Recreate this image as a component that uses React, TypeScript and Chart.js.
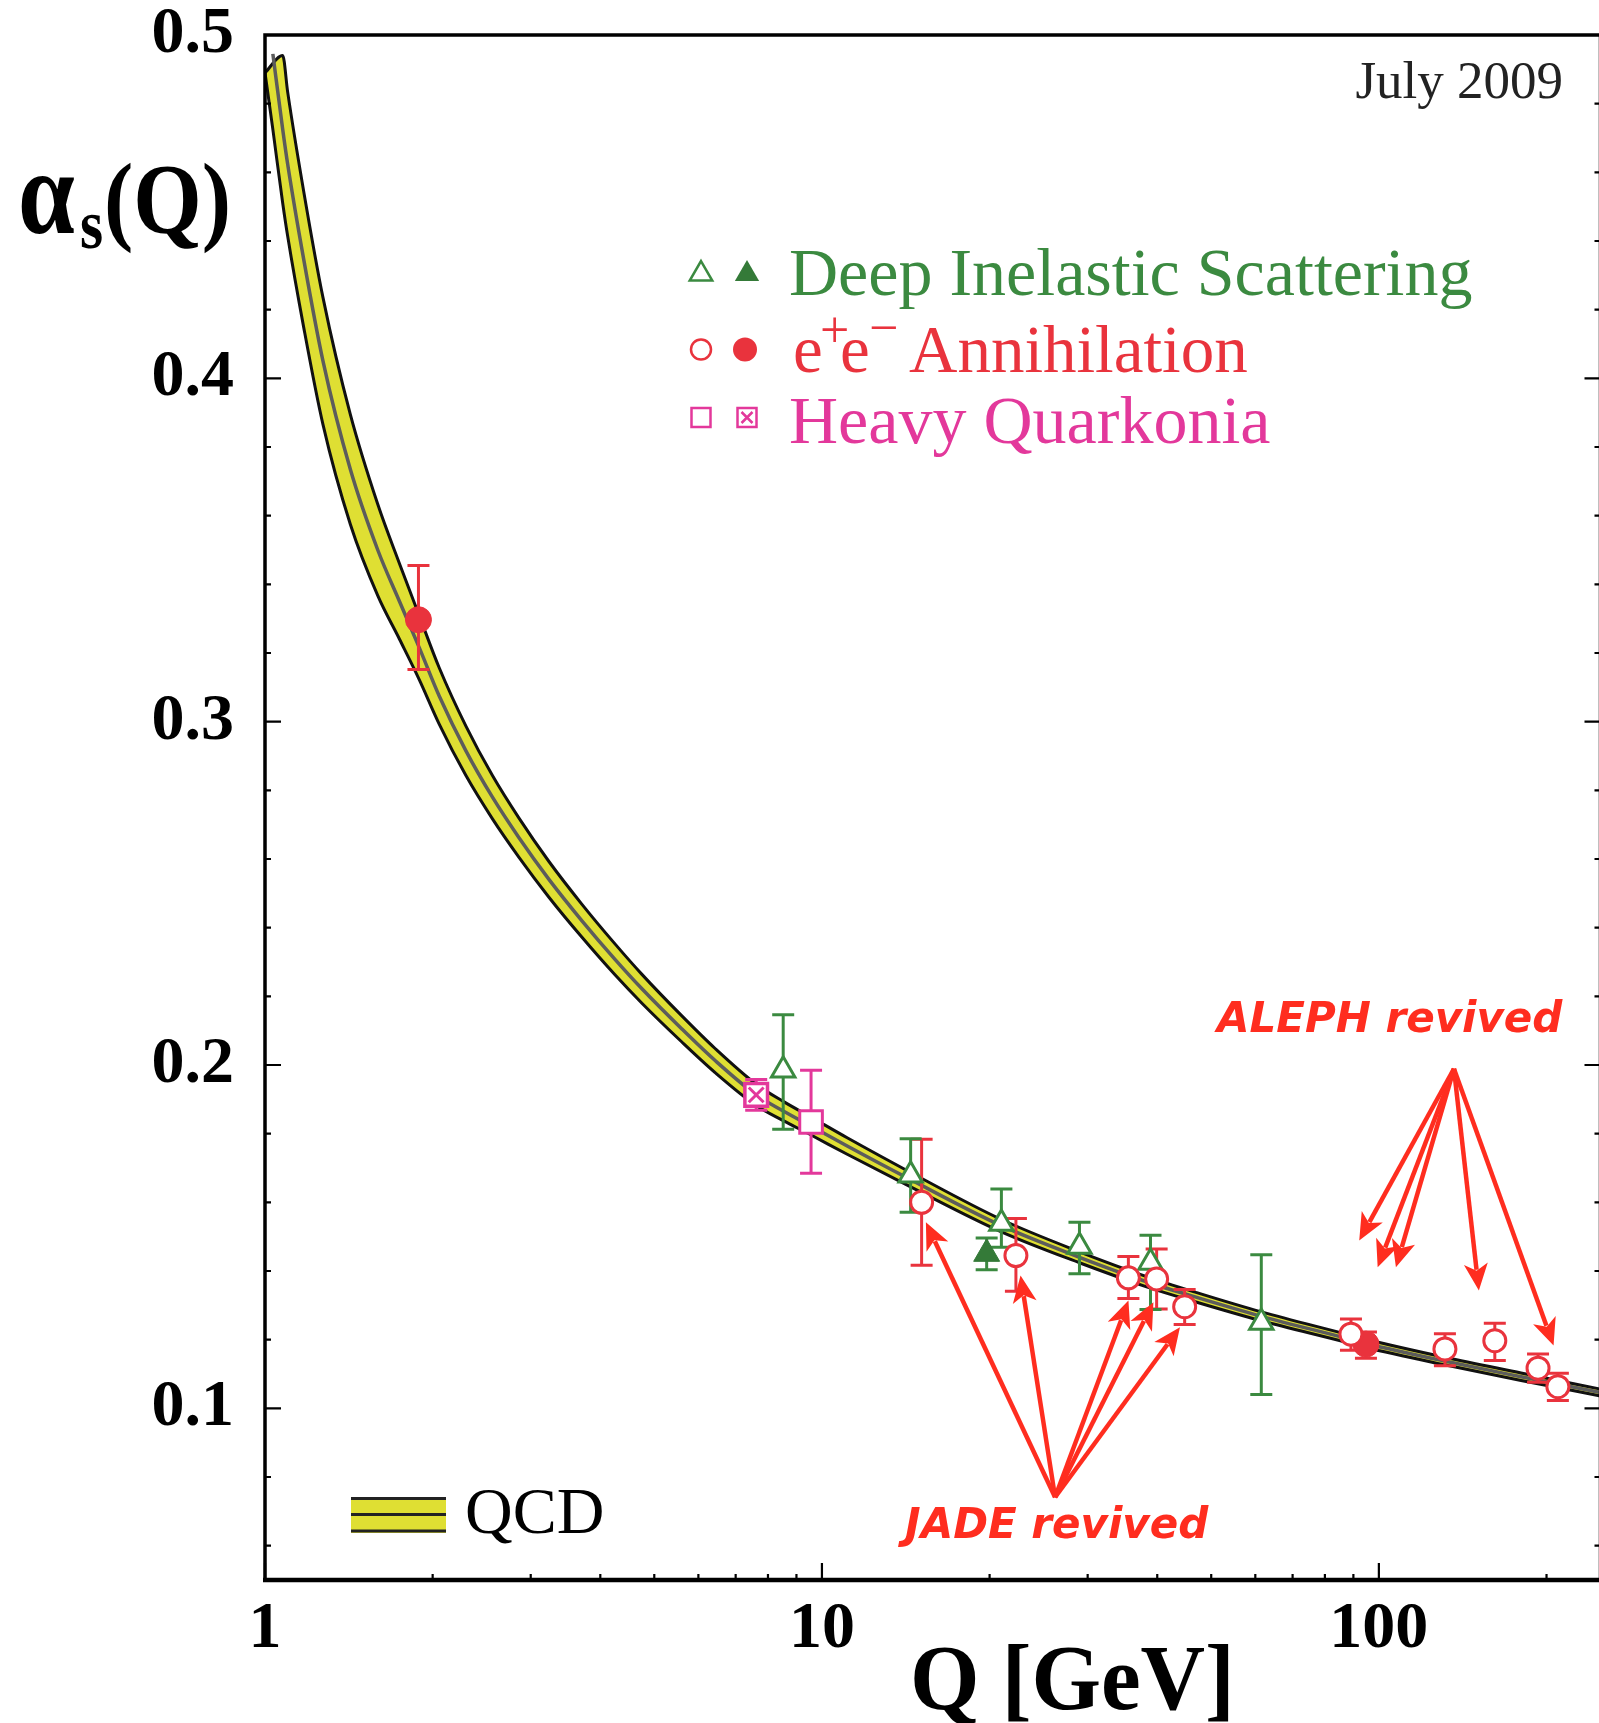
import React, { useEffect, useRef } from 'react';
import { Chart, registerables } from 'chart.js';

Chart.register(...registerables);

const SERIF = '"Liberation Serif", "Times New Roman", serif';
const SANS = '"DejaVu Sans", Verdana, sans-serif';

const GREEN = '#3b8a40';
const GREEN_DARK = '#347a38';
const RED = '#e9333d';
const PINK = '#e3389b';
const ARROW_RED = '#ff2d1f';
const YELLOW = '#dfdf33';

// ---- axis ticks ----
const xTickValues = [1, 10, 100];
const xTickLabels = ['1', '10', '100'];
const xMinorTicks = [2, 3, 4, 5, 6, 7, 8, 9, 20, 30, 40, 50, 60, 70, 80, 90, 200];
const yTickValues = [0.1, 0.2, 0.3, 0.4, 0.5];
const yTickLabels = ['0.1', '0.2', '0.3', '0.4', '0.5'];
const yMinorTicks = [0.06, 0.08, 0.12, 0.14, 0.16, 0.18, 0.22, 0.24, 0.26, 0.28, 0.32, 0.34, 0.36, 0.38, 0.42, 0.44, 0.46, 0.48];

// ---- QCD band ----
const qcdQ = [1.0, 1.033, 1.076, 1.098, 1.174, 1.271, 1.423, 1.594, 1.744, 1.893, 2.055, 2.295, 2.561, 2.858, 3.237, 3.708, 4.254, 4.751, 5.604, 6.43, 7.62, 8.52, 9.56, 11.1, 14.43, 21.0, 29.0, 38.4, 47.1, 61.5, 87, 94.8, 131.8, 180, 250];
const qcdCentral = [null, 0.4945, 0.4725, 0.4625, 0.4345, 0.405, 0.3735, 0.35, 0.335, 0.3215, 0.3075, 0.2915, 0.278, 0.2662, 0.254, 0.242, 0.2307, 0.2222, 0.2105, 0.2013, 0.1913, 0.1866, 0.1822, 0.1764, 0.1666, 0.1532, 0.144, 0.1368, 0.1323, 0.1268, 0.1205, 0.1189, 0.1137, 0.1092, 0.1046];
const qcdUpper = [0.489, null, 0.494, 0.4835, 0.4543, 0.4235, 0.3895, 0.3633, 0.346, 0.3308, 0.3157, 0.2987, 0.2843, 0.2719, 0.2592, 0.2468, 0.2352, 0.2264, 0.2143, 0.2048, 0.1944, 0.1894, 0.1848, 0.1788, 0.1687, 0.155, 0.1456, 0.1383, 0.1337, 0.1281, 0.1217, 0.1201, 0.1148, 0.1103, 0.1056];
const qcdLower = [0.489, 0.4725, 0.451, 0.4415, 0.4147, 0.3865, 0.3575, 0.3367, 0.324, 0.3122, 0.2993, 0.2843, 0.2717, 0.2605, 0.2488, 0.2372, 0.2262, 0.218, 0.2067, 0.1978, 0.1882, 0.1838, 0.1796, 0.174, 0.1645, 0.1514, 0.1424, 0.1353, 0.1309, 0.1255, 0.1193, 0.1177, 0.1126, 0.1081, 0.1036];

// ---- Deep Inelastic Scattering ----
const disOpenQ = [8.52, 14.43, 21.0, 29.0, 38.9, 61.5];
const disOpenAlpha = [0.1985, 0.1679, 0.1538, 0.1471, 0.1425, 0.125];
const disOpenErrUp = [0.0161, 0.0106, 0.0101, 0.0071, 0.0079, 0.0197];
const disOpenErrDown = [0.0172, 0.0108, 0.0069, 0.0079, 0.0137, 0.021];

const disFilledQ = [19.76];
const disFilledAlpha = [0.145];
const disFilledErrUp = [0.0046];
const disFilledErrDown = [0.0046];

// ---- e+e- annihilation ----
const eeOpenQ = [15.1, 22.3, 35.5, 39.9, 44.8, 89.1, 131.4, 161.5, 193.1, 209.6];
const eeOpenAlpha = [0.16, 0.1445, 0.138, 0.1377, 0.1296, 0.1216, 0.1173, 0.1197, 0.1117, 0.1063];
const eeOpenErrUp = [0.0184, 0.0108, 0.0062, 0.0087, 0.005, 0.0044, 0.0044, 0.0051, 0.0041, 0.0039];
const eeOpenErrDown = [0.0183, 0.0104, 0.006, 0.0088, 0.0052, 0.0047, 0.0049, 0.0058, 0.0041, 0.004];

const eeFilledQ = [1.886, 94.8];
const eeFilledAlpha = [0.3297, 0.1187];
const eeFilledErrUp = [0.0158, 0.0035];
const eeFilledErrDown = [0.0145, 0.0041];

// ---- Heavy quarkonia ----
const hqOpenQ = [9.56];
const hqOpenAlpha = [0.1834];
const hqOpenErrUp = [0.0151];
const hqOpenErrDown = [0.0149];

const hqCrossQ = [7.62];
const hqCrossAlpha = [0.1913];
const hqCrossErrUp = [0.0045];
const hqCrossErrDown = [0.0045];

// ---- annotation arrows (data coordinates) ----
const jadeOriginQ = 26.22;
const jadeOriginAlpha = 0.0741;
const jadeTipsQ = [15.37, 22.73, 35.51, 39.37, 43.94];
const jadeTipsAlpha = [0.1542, 0.1387, 0.1314, 0.1309, 0.1236];
const alephOriginQ = 136.4;
const alephOriginAlpha = 0.1989;
const alephTipsQ = [92.2, 99.5, 107.3, 151.2, 205.9];
const alephTipsAlpha = [0.1489, 0.1411, 0.1411, 0.1343, 0.1183];

const pts = (q: number[], a: (number | null)[]) => q.map((x, i) => ({ x, y: a[i] }));
const errData = (q: number[], a: number[], up: number[], dn: number[]) =>
  q.flatMap((x, i) => [{ x, y: a[i] - dn[i] }, { x, y: a[i] + up[i] }, { x, y: null as any }]);

const errSet = (data: any[], color: string) => ({
  type: 'line' as const,
  data,
  borderColor: color,
  borderWidth: 3,
  pointStyle: 'line' as const,
  pointRadius: 11,
  pointBorderWidth: 3,
  pointBorderColor: color,
  spanGaps: false,
  fill: false,
  order: 5,
});

const markerSet = (data: any[], style: any, radius: number, fillColor: string, strokeColor: string, bw: number, order = 2) => ({
  type: 'line' as const,
  data,
  showLine: false,
  pointStyle: style,
  pointRadius: radius,
  pointBackgroundColor: fillColor,
  pointBorderColor: strokeColor,
  pointBorderWidth: bw,
  order,
});

function drawText(ctx: CanvasRenderingContext2D, text: string, x: number, y: number, font: string, color: string, sx = 1, align: CanvasTextAlign = 'left') {
  ctx.save();
  ctx.font = font;
  ctx.fillStyle = color;
  ctx.textAlign = align;
  ctx.textBaseline = 'alphabetic';
  ctx.translate(x, y);
  ctx.scale(sx, 1);
  ctx.fillText(text, 0, 0);
  ctx.restore();
}

function triangle(ctx: CanvasRenderingContext2D, x: number, y: number, r: number) {
  const s = Math.sin(Math.PI * 2 / 3) * r;
  ctx.beginPath();
  ctx.moveTo(x, y - r);
  ctx.lineTo(x + s, y + r / 2);
  ctx.lineTo(x - s, y + r / 2);
  ctx.closePath();
}

function arrow(ctx: CanvasRenderingContext2D, x0: number, y0: number, x1: number, y1: number) {
  const dx = x1 - x0, dy = y1 - y0;
  const len = Math.hypot(dx, dy);
  const ux = dx / len, uy = dy / len;
  const headL = 27, headW = 12;
  const bx = x1 - ux * headL, by = y1 - uy * headL;
  ctx.beginPath();
  ctx.moveTo(x0, y0);
  ctx.lineTo(bx + ux * 6, by + uy * 6);
  ctx.stroke();
  ctx.beginPath();
  ctx.moveTo(x1, y1);
  ctx.lineTo(bx - uy * headW, by + ux * headW);
  ctx.lineTo(bx + ux * 7, by + uy * 7);
  ctx.lineTo(bx + uy * headW, by - ux * headW);
  ctx.closePath();
  ctx.fill();
}

const decorPlugin = {
  id: 'decor',
  afterDraw(chart: any) {
    const ctx: CanvasRenderingContext2D = chart.ctx;
    const xs = chart.scales.x, ys = chart.scales.y;
    const { left, right, top, bottom } = chart.chartArea;
    ctx.save();
    // frame
    ctx.strokeStyle = '#000';
    ctx.lineCap = 'butt';
    ctx.lineWidth = 3.5;
    ctx.beginPath();
    ctx.moveTo(left, bottom);
    ctx.lineTo(left, top);
    ctx.lineTo(right, top);
    ctx.lineTo(right, bottom);
    ctx.stroke();
    ctx.lineWidth = 4.5;
    ctx.beginPath();
    ctx.moveTo(left - 2, bottom);
    ctx.lineTo(right + 2, bottom);
    ctx.stroke();
    // ticks
    ctx.lineWidth = 2.2;
    ctx.beginPath();
    for (const v of xTickValues) {
      const p = xs.getPixelForValue(v);
      ctx.moveTo(p, bottom); ctx.lineTo(p, bottom - 17);
    }
    for (const v of xMinorTicks) {
      const p = xs.getPixelForValue(v);
      ctx.moveTo(p, bottom); ctx.lineTo(p, bottom - 6);
    }
    for (const v of yTickValues) {
      const p = ys.getPixelForValue(v);
      ctx.moveTo(left, p); ctx.lineTo(left + 16, p);
      ctx.moveTo(right, p); ctx.lineTo(right - 16, p);
    }
    for (const v of yMinorTicks) {
      const p = ys.getPixelForValue(v);
      ctx.moveTo(left, p); ctx.lineTo(left + 6, p);
      ctx.moveTo(right, p); ctx.lineTo(right - 6, p);
    }
    ctx.stroke();

    // axis titles
    drawText(ctx, 'Q [GeV]', 910, 1709, `bold 94px ${SERIF}`, '#000', 0.95);
    drawText(ctx, '\u03b1', 18, 233, `bold 120px ${SERIF}`, '#000', 0.85);
    drawText(ctx, 's', 80, 248, `bold 70px ${SERIF}`, '#000', 0.85);
    drawText(ctx, '(Q)', 104, 232, `bold 100px ${SERIF}`, '#000', 0.88);

    // date
    drawText(ctx, 'July 2009', 1563, 98, `53px ${SERIF}`, '#222', 1, 'right');

    // legend
    ctx.lineWidth = 2.5;
    ctx.strokeStyle = GREEN; ctx.fillStyle = '#fff';
    triangle(ctx, 701, 274, 13); ctx.fill(); ctx.stroke();
    ctx.fillStyle = GREEN_DARK;
    triangle(ctx, 747, 274, 14); ctx.fill();
    drawText(ctx, 'Deep Inelastic Scattering', 789, 294.5, `68px ${SERIF}`, GREEN);

    ctx.strokeStyle = RED; ctx.fillStyle = '#fff';
    ctx.beginPath(); ctx.arc(701, 349.5, 10, 0, Math.PI * 2); ctx.fill(); ctx.stroke();
    ctx.fillStyle = RED;
    ctx.beginPath(); ctx.arc(745, 349.5, 12, 0, Math.PI * 2); ctx.fill();
    drawText(ctx, 'e', 793, 371.5, `67px ${SERIF}`, RED);
    drawText(ctx, '+', 820, 347, `52px ${SERIF}`, RED);
    drawText(ctx, 'e', 840, 371.5, `67px ${SERIF}`, RED);
    drawText(ctx, '\u2212', 869, 345, `52px ${SERIF}`, RED);
    drawText(ctx, 'Annihilation', 909, 371.5, `67px ${SERIF}`, RED);

    ctx.strokeStyle = PINK; ctx.fillStyle = '#fff';
    ctx.beginPath(); ctx.rect(691.5, 408, 19, 19); ctx.fill(); ctx.stroke();
    ctx.beginPath(); ctx.rect(737.5, 408, 19, 19); ctx.fill(); ctx.stroke();
    ctx.beginPath();
    ctx.moveTo(741.5, 412); ctx.lineTo(752.5, 423);
    ctx.moveTo(752.5, 412); ctx.lineTo(741.5, 423);
    ctx.stroke();
    drawText(ctx, 'Heavy Quarkonia', 789, 443, `68px ${SERIF}`, PINK);

    // QCD legend swatch
    ctx.fillStyle = YELLOW;
    ctx.fillRect(351, 1497, 95, 36);
    ctx.strokeStyle = '#222';
    ctx.lineWidth = 3;
    ctx.beginPath();
    ctx.moveTo(351, 1498.5); ctx.lineTo(446, 1498.5);
    ctx.moveTo(351, 1514.5); ctx.lineTo(446, 1514.5);
    ctx.moveTo(351, 1531); ctx.lineTo(446, 1531);
    ctx.stroke();
    drawText(ctx, 'QCD', 465, 1533, `66px ${SERIF}`, '#000');

    // annotations
    ctx.strokeStyle = ARROW_RED;
    ctx.fillStyle = ARROW_RED;
    ctx.lineWidth = 4.5;
    const jx = xs.getPixelForValue(jadeOriginQ), jy = ys.getPixelForValue(jadeOriginAlpha);
    jadeTipsQ.forEach((q, i) => arrow(ctx, jx, jy, xs.getPixelForValue(q), ys.getPixelForValue(jadeTipsAlpha[i])));
    const ax = xs.getPixelForValue(alephOriginQ), ay = ys.getPixelForValue(alephOriginAlpha);
    alephTipsQ.forEach((q, i) => arrow(ctx, ax, ay, xs.getPixelForValue(q), ys.getPixelForValue(alephTipsAlpha[i])));
    drawText(ctx, 'JADE revived', 905, 1538, `italic bold 42px ${SANS}`, ARROW_RED);
    drawText(ctx, 'ALEPH revived', 1217, 1032, `italic bold 42px ${SANS}`, ARROW_RED);
    ctx.restore();
  },
};

export default function App() {
  const ref = useRef<HTMLCanvasElement>(null);
  useEffect(() => {
    if (!ref.current) return;
    const tickFont = { family: SERIF, size: 66, weight: 'bold' as const, lineHeight: 1.2 };
    const chart = new Chart(ref.current, {
      type: 'line',
      data: {
        datasets: [
          {
            data: pts(qcdQ, qcdLower),
            borderColor: '#111',
            borderWidth: 3,
            pointRadius: 0,
            fill: false,
            cubicInterpolationMode: 'monotone',
            order: 9,
          } as any,
          {
            data: pts(qcdQ, qcdUpper),
            borderColor: '#111',
            borderWidth: 3,
            pointRadius: 0,
            spanGaps: true,
            fill: 0,
            backgroundColor: YELLOW,
            cubicInterpolationMode: 'monotone',
            segment: { borderColor: (c: any) => (c.p0DataIndex === 0 ? 'rgba(0,0,0,0)' : '#111') },
            order: 10,
          } as any,
          {
            data: pts(qcdQ, qcdCentral),
            borderColor: '#5c5c5c',
            borderWidth: 3.5,
            pointRadius: 0,
            fill: false,
            cubicInterpolationMode: 'monotone',
            order: 8,
          } as any,
          errSet(errData(disOpenQ, disOpenAlpha, disOpenErrUp, disOpenErrDown), GREEN),
          errSet(errData(disFilledQ, disFilledAlpha, disFilledErrUp, disFilledErrDown), GREEN),
          errSet(errData(eeOpenQ, eeOpenAlpha, eeOpenErrUp, eeOpenErrDown), RED),
          errSet(errData(eeFilledQ, eeFilledAlpha, eeFilledErrUp, eeFilledErrDown), RED),
          errSet(errData(hqOpenQ, hqOpenAlpha, hqOpenErrUp, hqOpenErrDown), PINK),
          errSet(errData(hqCrossQ, hqCrossAlpha, hqCrossErrUp, hqCrossErrDown), PINK),
          markerSet(pts(disOpenQ, disOpenAlpha), 'triangle', 13.5, '#fff', GREEN, 3, 3),
          markerSet(pts(disFilledQ, disFilledAlpha), 'triangle', 15, GREEN_DARK, GREEN_DARK, 1, 3),
          markerSet(pts(hqOpenQ, hqOpenAlpha), 'rect', 16, '#fff', PINK, 3, 3),
          markerSet(pts(hqCrossQ, hqCrossAlpha), 'rect', 16, '#fff', PINK, 3.5, 3),
          markerSet(pts(hqCrossQ, hqCrossAlpha), 'crossRot', 10.5, PINK, PINK, 3, 2),
          markerSet(pts(eeOpenQ, eeOpenAlpha), 'circle', 11, '#fff', RED, 3, 1),
          markerSet(pts(eeFilledQ, eeFilledAlpha), 'circle', 13, RED, RED, 1, 1),
        ],
      },
      options: {
        responsive: false,
        animation: false,
        events: [],
        layout: { padding: { left: 0, right: 14, top: 35, bottom: 0 } },
        plugins: { legend: { display: false }, tooltip: { enabled: false }, title: { display: false } },
        scales: {
          x: {
            type: 'logarithmic',
            min: 1,
            max: 250,
            position: 'bottom',
            afterBuildTicks: (s: any) => { s.ticks = xTickValues.map((v) => ({ value: v })); },
            afterFit: (s: any) => { s.height = 143; s.paddingLeft = 0; s.paddingRight = 0; },
            grid: { display: false, drawTicks: false },
            border: { display: false },
            ticks: {
              autoSkip: false,
              maxRotation: 0,
              minRotation: 0,
              padding: 10,
              color: '#000',
              font: tickFont,
              callback: (_v: any, i: number) => xTickLabels[i],
            },
          },
          y: {
            type: 'linear',
            min: 0.05,
            max: 0.5,
            position: 'left',
            afterBuildTicks: (s: any) => { s.ticks = yTickValues.map((v) => ({ value: v })); },
            afterFit: (s: any) => { s.width = 265; s.paddingTop = 0; s.paddingBottom = 0; },
            grid: { display: false, drawTicks: false },
            border: { display: false },
            ticks: {
              padding: 31,
              color: '#000',
              font: tickFont,
              callback: (_v: any, i: number) => yTickLabels[i],
            },
          },
        } as any,
      },
      plugins: [decorPlugin],
    });
    return () => chart.destroy();
  }, []);
  return (
    <div style={{ position: 'fixed', left: 0, top: 0, width: 1599, height: 1723, overflow: 'hidden', background: '#fff' }}>
      <canvas ref={ref} width={1620} height={1723} style={{ display: 'block', width: 1620, height: 1723 }} />
    </div>
  );
}
